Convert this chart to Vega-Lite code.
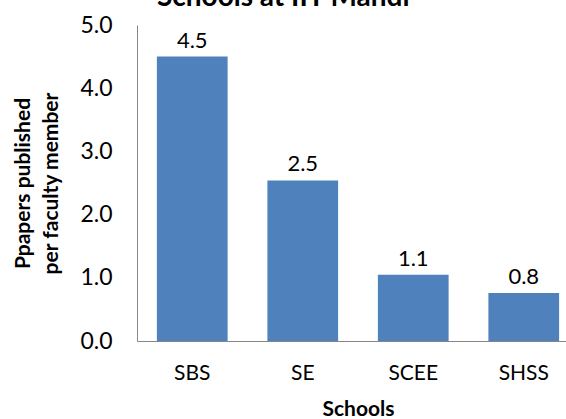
{
  "$schema": "https://vega.github.io/schema/vega-lite/v6.json",
  "autosize": {"type": "none"},
  "width": 442,
  "height": 316,
  "padding": {"left": 137, "top": 25, "right": 0, "bottom": 78},
  "background": "white",
  "config": {"view": {"stroke": null}, "font": "Lato"},
  "title": {"text": "Schools at IIT Mandi", "anchor": "start", "frame": "group", "dx": 20, "offset": -20, "baseline": "alphabetic", "fontSize": 28, "fontWeight": "bold", "font": "Lato", "color": "#000000"},
  "data": {"values": [
    {"school": "SBS", "papers": 4.5},
    {"school": "SE", "papers": 2.54},
    {"school": "SCEE", "papers": 1.05},
    {"school": "SHSS", "papers": 0.76}
  ]},
  "encoding": {
    "x": {"field": "school", "type": "nominal", "sort": null,
      "scale": {"paddingInner": 0.36, "paddingOuter": 0.18},
      "axis": {"title": "Schools", "labelAngle": 0, "ticks": false, "domainColor": "#868686", "labelFontSize": 21, "labelColor": "#000000", "labelPadding": 21, "titleFontSize": 21, "titleFontWeight": "bold", "titleColor": "#000000", "titlePadding": 15, "grid": false}},
    "y": {"field": "papers", "type": "quantitative",
      "scale": {"domain": [0, 5], "nice": false},
      "axis": {"title": ["Ppapers published", "per faculty member"], "values": [0, 1, 2, 3, 4, 5], "format": ".1f", "grid": false, "ticks": false, "domainColor": "#868686", "labelFontSize": 23, "labelColor": "#000000", "labelPadding": 25, "titleFontSize": 21, "titleFontWeight": "bold", "titleColor": "#000000", "titlePadding": 18, "titleLineHeight": 28}}
  },
  "layer": [
    {"mark": {"type": "bar", "color": "#4F81BD"}},
    {"mark": {"type": "text", "baseline": "alphabetic", "dy": -9, "fontSize": 22, "color": "#000000"},
     "encoding": {"text": {"field": "papers", "type": "quantitative", "format": ".1f"}}}
  ]
}
